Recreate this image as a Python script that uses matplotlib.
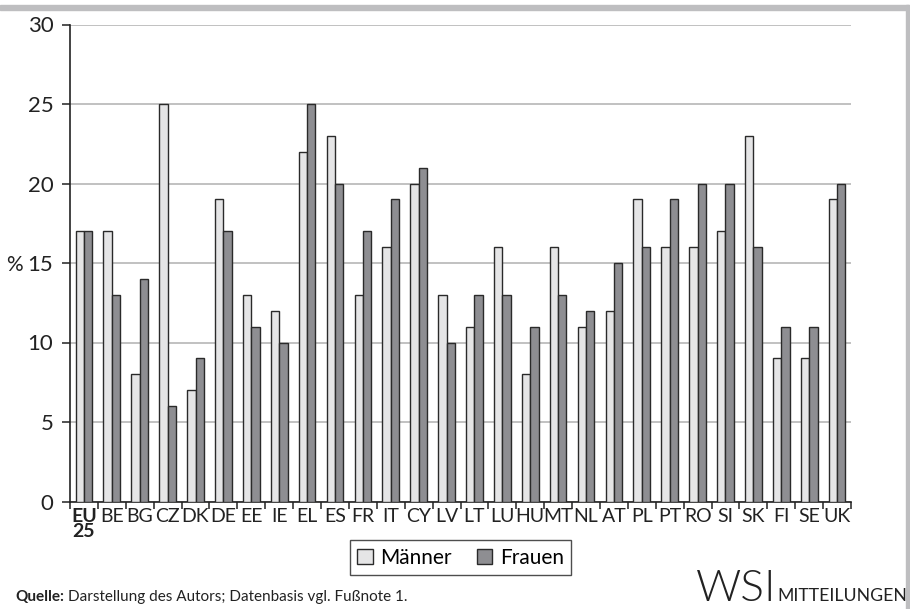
import matplotlib
matplotlib.use("Agg")
import matplotlib.pyplot as plt
from matplotlib.patches import Rectangle
import numpy as np

plt.rcParams["font.family"] = ["Lato", "DejaVu Sans"]

countries = ["EU\n25", "BE", "BG", "CZ", "DK", "DE", "EE", "IE", "EL", "ES",
             "FR", "IT", "CY", "LV", "LT", "LU", "HU", "MT", "NL", "AT",
             "PL", "PT", "RO", "SI", "SK", "FI", "SE", "UK"]
maenner = [17, 17, 8, 25, 7, 19, 13, 12, 22, 23,
           13, 16, 20, 13, 11, 16, 8, 16, 11, 12,
           19, 16, 16, 17, 23, 9, 9, 19]
frauen = [17, 13, 14, 6, 9, 17, 11, 10, 25, 20,
          17, 19, 21, 10, 13, 13, 11, 13, 12, 15,
          16, 19, 20, 20, 16, 11, 11, 20]

W, H = 910, 609
fig = plt.figure(figsize=(W / 100, H / 100), dpi=100)
ax = fig.add_axes([70 / W, 1 - 501.5 / H, 781 / W, 477 / H])

x = np.arange(len(countries))
bw = 0.3
ax.bar(x - bw / 2, maenner, bw, color="#e5e5e6", edgecolor="#2a2a2a",
       linewidth=1.0, label="Männer", zorder=3)
ax.bar(x + bw / 2, frauen, bw, color="#8e8e92", edgecolor="#2a2a2a",
       linewidth=1.0, label="Frauen", zorder=3)

ax.set_xlim(-0.5, len(countries) - 0.5)
ax.set_ylim(0, 30)
ax.set_yticks(range(0, 31, 5))
ax.yaxis.grid(True, color="#bcbcbc", linewidth=1.3, zorder=0)
ax.set_axisbelow(True)

for s in ["top", "right"]:
    ax.spines[s].set_visible(False)
for s in ["left", "bottom"]:
    ax.spines[s].set_color("#222222")
    ax.spines[s].set_linewidth(1.2)

# labels centred on groups, tick marks between groups
ax.set_xticks(x)
ax.set_xticklabels(countries, fontsize=14, color="#222222", linespacing=0.85,
                   va="top")
ax.tick_params(axis="x", which="major", length=0, pad=5)
ax.set_xticks(np.arange(len(countries) + 1) - 0.5, minor=True)
ax.tick_params(axis="x", which="minor", length=5, width=1.1, color="#222222")
ax.get_xticklabels()[0].set_fontweight("bold")
ax.tick_params(axis="y", length=6, width=1.1, color="#222222",
               labelsize=16, labelcolor="#222222", pad=6)

fig.text(6 / W, 1 - 265 / H, "%", fontsize=15, color="#222222", va="center")

leg = ax.legend(loc="center", bbox_to_anchor=(460.5 / W, 1 - 557.5 / H),
                bbox_transform=fig.transFigure, ncol=2, frameon=True,
                fancybox=False, fontsize=15, handlelength=0.75,
                handleheight=0.75, handletextpad=0.35, columnspacing=1.2,
                borderpad=0.35, edgecolor="#222222")
leg.get_frame().set_linewidth(1.0)

renderer = fig.canvas.get_renderer()

# source line: bold lead-in followed by the plain text
q = fig.text(15 / W, 1 - 597 / H, "Quelle:", fontsize=11, fontweight="bold",
             color="#222222", va="center")
qx = q.get_window_extent(renderer).x1
fig.text((qx + 4) / W, 1 - 597 / H,
         "Darstellung des Autors; Datenbasis vgl. Fußnote 1.",
         fontsize=11, color="#222222", va="center")

# publisher mark
wsi = fig.text(696 / W, 1 - 601 / H, "WSI", fontsize=32, fontweight=300,
               color="#222222", va="baseline")
wx = wsi.get_window_extent(renderer).x1
fig.text((wx + 1) / W, 1 - 601 / H, "MITTEILUNGEN", fontsize=12.7,
         color="#222222", va="baseline")

# grey frame strips at the top and right edge
fig.patches.append(Rectangle((0, 1 - 9.5 / H), 909 / W, 5 / H,
                             transform=fig.transFigure, color="#bebec0"))
fig.patches.append(Rectangle((905.5 / W, 0), 3 / W, 1 - 4.5 / H,
                             transform=fig.transFigure, color="#bebec0"))

fig.savefig("out.png", dpi=100)
